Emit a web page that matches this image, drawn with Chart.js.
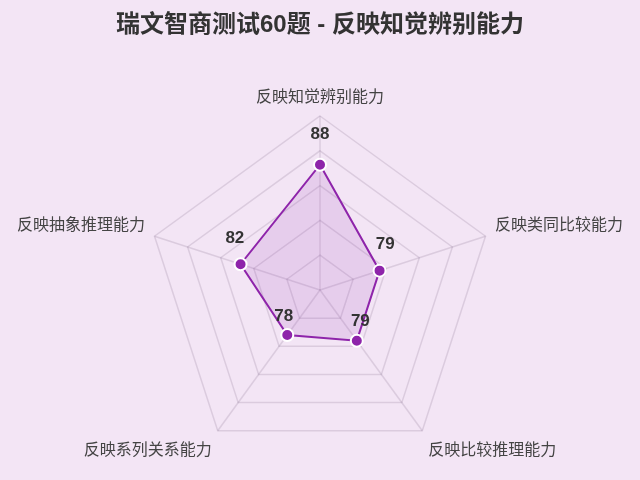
<!DOCTYPE html>
<html>
<head>
<meta charset="utf-8">
<script src="https://cdn.jsdelivr.net/npm/chart.js@4"></script>
<style>
  html, body { margin: 0; padding: 0; background: #f3e5f5; }
  #wrap { width: 640px; height: 480px; }
</style>
</head>
<body>
<div id="wrap"><canvas id="radarChart"></canvas></div>
<script>
const abilities = ["反映知觉辨别能力", "反映类同比较能力", "反映比较推理能力", "反映系列关系能力", "反映抽象推理能力"];
const scores = [88, 79, 79, 78, 82];
const scaleMin = 70;
const scaleMax = 95;

// draw the value above each point
const valueLabels = {
    id: "valueLabels",
    afterDatasetsDraw(chart) {
        const ctx = chart.ctx;
        const scale = chart.scales.r;
        const meta = chart.getDatasetMeta(0);
        ctx.save();
        ctx.font = "bold 17px 'Liberation Sans', Arial, sans-serif";
        ctx.fillStyle = "#333333";
        ctx.textAlign = "center";
        ctx.textBaseline = "middle";
        meta.data.forEach((pt, i) => {
            const dx = pt.x - scale.xCenter;
            const dy = pt.y - scale.yCenter;
            const len = Math.sqrt(dx * dx + dy * dy) || 1;
            const x = pt.x + (dx / len) * 6;
            const y = pt.y + (dy / len) * 6 - 24;
            ctx.fillText(String(scores[i]), x, y);
        });
        ctx.restore();
    },
};

var ctx = document.getElementById("radarChart").getContext("2d");
var radarChart = new Chart(ctx, {
    type: "radar",
    data: {
        labels: abilities,
        datasets: [
            {
                label: "得分",
                data: scores,
                backgroundColor: "rgba(142, 36, 170, 0.12)",
                borderColor: "#8e24aa",
                borderWidth: 2,
                pointBackgroundColor: "#8e24aa",
                pointBorderColor: "#ffffff",
                pointBorderWidth: 2,
                pointRadius: 6,
            },
        ],
    },
    options: {
        responsive: true,
        maintainAspectRatio: false,
        animation: false,
        layout: { padding: { top: 11, bottom: 0, left: 10, right: 10 } },
        plugins: {
            legend: { display: false },
            tooltip: { enabled: false },
            title: {
                display: true,
                text: "瑞文智商测试60题 - 反映知觉辨别能力",
                color: "#333333",
                font: { size: 24, weight: "bold", family: "'Liberation Sans', 'Noto Sans CJK SC', sans-serif" },
                padding: { top: 0, bottom: 32 },
            },
        },
        scales: {
            r: {
                min: scaleMin,
                max: scaleMax,
                ticks: { stepSize: 5, display: false },
                grid: { color: "rgba(110, 90, 120, 0.18)", lineWidth: 1.5 },
                angleLines: { color: "rgba(110, 90, 120, 0.18)", lineWidth: 1.5 },
                pointLabels: {
                    color: "#444444",
                    font: { size: 16, family: "'Noto Sans CJK SC', sans-serif" },
                    padding: 10,
                },
            },
        },
    },
    plugins: [valueLabels],
});
</script>
</body>
</html>
